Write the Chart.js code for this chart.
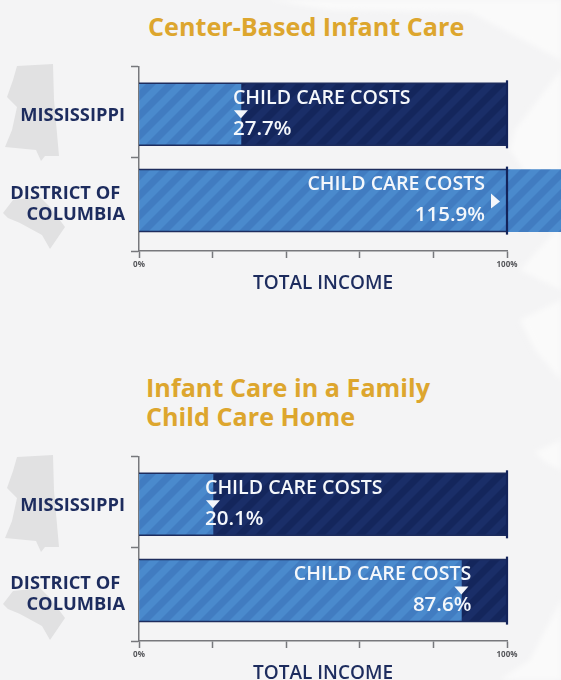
<!DOCTYPE html>
<html><head><meta charset="utf-8">
<script src="https://cdn.jsdelivr.net/npm/chart.js@4"></script>
<style>
html,body{margin:0;padding:0;background:#f4f4f5;overflow:hidden}
#page{position:relative;width:561px;height:680px;overflow:hidden;background:#f4f4f5}
svg.bg{position:absolute;left:0;top:0}
.t{position:absolute;font:700 25.2px/29px "Open Sans",sans-serif;color:#dda62e;white-space:nowrap}
.c{position:absolute;left:0;width:561px;height:245px}
canvas{display:block}
</style></head><body>
<div id="page">
<svg class="bg" width="561" height="680">
<defs><filter id="b"><feGaussianBlur stdDeviation="2.5"/></filter></defs>
<g fill="#fafafa" filter="url(#b)">
<path d="M270 0H561V60L470 12L330 10Z"/>
<path d="M515 130L561 70V290L520 270L561 225L510 150Z"/>
<path d="M520 320L561 300V380L535 350Z"/>
<path d="M535 452L561 440V470L545 462Z"/>
<path d="M530 660L561 600V680H500Z"/>
</g>
<g fill="#e1e1e2">
<path id="ms" d="M17 66L53 64L54 100L59 156L45 156L41 161L36 150L5 147L12 130L17 107L7 97L13 80Z"/>
<path id="dc" d="M3 213L13 200L40 197L50 207L65 227L50 249L42 235L20 223L8 218Z"/>
<use href="#ms" y="391"/><use href="#dc" y="391"/>
</g>
</svg>
<div class="t" style="left:148px;top:12px">Center-Based Infant Care</div>
<div class="t" style="left:146px;top:373px">Infant Care in a Family<br>Child Care Home</div>
<div class="c" style="top:50px"><canvas id="a" width="561" height="245"></canvas></div>
<div class="c" style="top:440px"><canvas id="h" width="561" height="245"></canvas></div>
</div>
<script>
const categories = ['MISSISSIPPI', ['DISTRICT OF ', 'COLUMBIA']];
const rows = [1, 2];
const centerCosts = [27.7, 115.9];
const centerRest = [72.3, 0];
const homeCosts = [20.1, 87.6];
const homeRest = [79.9, 12.4];
const incomeTicks = [0, 20, 40, 60, 80, 100];
const incomeLabels = ['0%', '', '', '', '', '100%'];
const costLabel = 'CHILD CARE COSTS';
const axisTitle = 'TOTAL INCOME';

const NAVY = '#1d2c5e', AXIS = '#77787c';
function stripes(base, stripe) {
  const s = 20, c = document.createElement('canvas');
  c.width = c.height = s;
  const g = c.getContext('2d');
  g.fillStyle = base; g.fillRect(0, 0, s, s);
  g.fillStyle = stripe;
  for (const o of [-s, 0, s]) {
    g.beginPath();
    g.moveTo(o, s); g.lineTo(o + s / 2, s); g.lineTo(o + s + s / 2, 0); g.lineTo(o + s, 0);
    g.closePath(); g.fill();
  }
  return g.createPattern(c, 'repeat');
}
const lightFill = stripes('#4a8acd', '#417cc1');
const darkFill = stripes('#14265c', '#1a2e68');

const overlay = {
  id: 'overlay',
  afterDatasetsDraw(chart) {
    const { ctx, scales: { x, y } } = chart;
    const costs = chart.data.datasets[0].data;
    const half = 31;
    ctx.save();
    costs.forEach(p => {
      const cy = y.getPixelForValue(p.y), x0 = x.getPixelForValue(0), x100 = x.getPixelForValue(100);
      ctx.strokeStyle = NAVY; ctx.lineWidth = 1.5;
      ctx.beginPath();
      ctx.moveTo(x0, cy - half); ctx.lineTo(x100, cy - half);
      ctx.moveTo(x0, cy + half); ctx.lineTo(x100, cy + half);
      ctx.stroke();
      ctx.strokeStyle = '#13235a'; ctx.lineWidth = 2.2;
      ctx.beginPath();
      ctx.moveTo(x100, cy - half - 3); ctx.lineTo(x100, cy + half + 3);
      ctx.stroke();

      const px = x.getPixelForValue(p.x), over = p.x > 100, right = p.x > 50;
      let tx;
      ctx.fillStyle = '#f4f7fb';
      ctx.beginPath();
      if (over) {
        tx = x100 - 22;
        ctx.moveTo(x100 - 16, cy - 7); ctx.lineTo(x100 - 7, cy + 1); ctx.lineTo(x100 - 16, cy + 8);
      } else {
        tx = right ? px + 10 : px - 8;
        ctx.moveTo(px - 7, cy - 4); ctx.lineTo(px + 7, cy - 4); ctx.lineTo(px, cy + 4);
      }
      ctx.closePath(); ctx.fill();
      ctx.textAlign = right ? 'right' : 'left';
      ctx.textBaseline = 'middle';
      ctx.font = '600 19.6px "Open Sans", sans-serif';
      ctx.fillText(costLabel, tx, cy - 16);
      ctx.font = '600 20.5px "Open Sans", sans-serif';
      ctx.fillText(p.x.toFixed(1) + '%', tx, cy + 15);
    });
    ctx.restore();
  }
};

function build(id, costs, rest) {
  const yMin = 0.445, yMax = 2.584;
  const labelRows = [1.02, 2.04];
  new Chart(document.getElementById(id), {
    type: 'bar',
    data: {
      datasets: [
        { data: costs.map((v, i) => ({ x: v, y: rows[i] })), backgroundColor: lightFill, stack: 's', barThickness: 62, clip: false },
        { data: rest.map((v, i) => ({ x: v, y: rows[i] })), backgroundColor: darkFill, stack: 's', barThickness: 62, clip: false }
      ]
    },
    plugins: [overlay],
    options: {
      indexAxis: 'y', responsive: false, animation: false,
      layout: { padding: { top: 16, right: 54, left: 0, bottom: 0 } },
      plugins: { legend: { display: false }, tooltip: { enabled: false }, title: { display: false } },
      scales: {
        x: {
          type: 'linear', min: 0, max: 100, stacked: true,
          afterBuildTicks: s => { s.ticks = incomeTicks.map(v => ({ value: v })); },
          afterFit: s => { s.height = 44; },
          border: { color: AXIS, width: 1.5 },
          grid: { drawOnChartArea: false, tickLength: 7, color: AXIS, tickWidth: 1.5 },
          ticks: {
            autoSkip: false, maxRotation: 0, padding: 2, color: '#55565a',
            font: { family: '"Open Sans", sans-serif', size: 8, weight: 700 },
            callback: (v) => incomeLabels[incomeTicks.indexOf(v)]
          },
          title: {
            display: true, text: axisTitle, color: NAVY, padding: { top: 3, bottom: 0 },
            font: { family: '"Open Sans", sans-serif', size: 19, weight: 600 }
          }
        },
        y: {
          type: 'linear', reverse: true, min: yMin, max: yMax, stacked: true, offset: false,
          afterBuildTicks: s => { s.ticks = [yMin, labelRows[0], 1.5, labelRows[1], yMax].map(v => ({ value: v })); },
          afterFit: s => { s.width = 139; },
          border: { color: AXIS, width: 1.5 },
          grid: {
            offset: false, drawOnChartArea: false, tickLength: 8, tickWidth: 1.5,
            tickColor: c => (c.tick && labelRows.includes(c.tick.value)) ? 'rgba(0,0,0,0)' : AXIS
          },
          ticks: {
            autoSkip: false, padding: 6, color: NAVY,
            font: { family: '"Open Sans", sans-serif', size: 18.3, weight: 700, lineHeight: 1.14 },
            callback: v => { const i = labelRows.indexOf(v); return i < 0 ? '' : categories[i]; }
          }
        }
      }
    }
  });
}
build('a', centerCosts, centerRest);
build('h', homeCosts, homeRest);
</script>
</body></html>
